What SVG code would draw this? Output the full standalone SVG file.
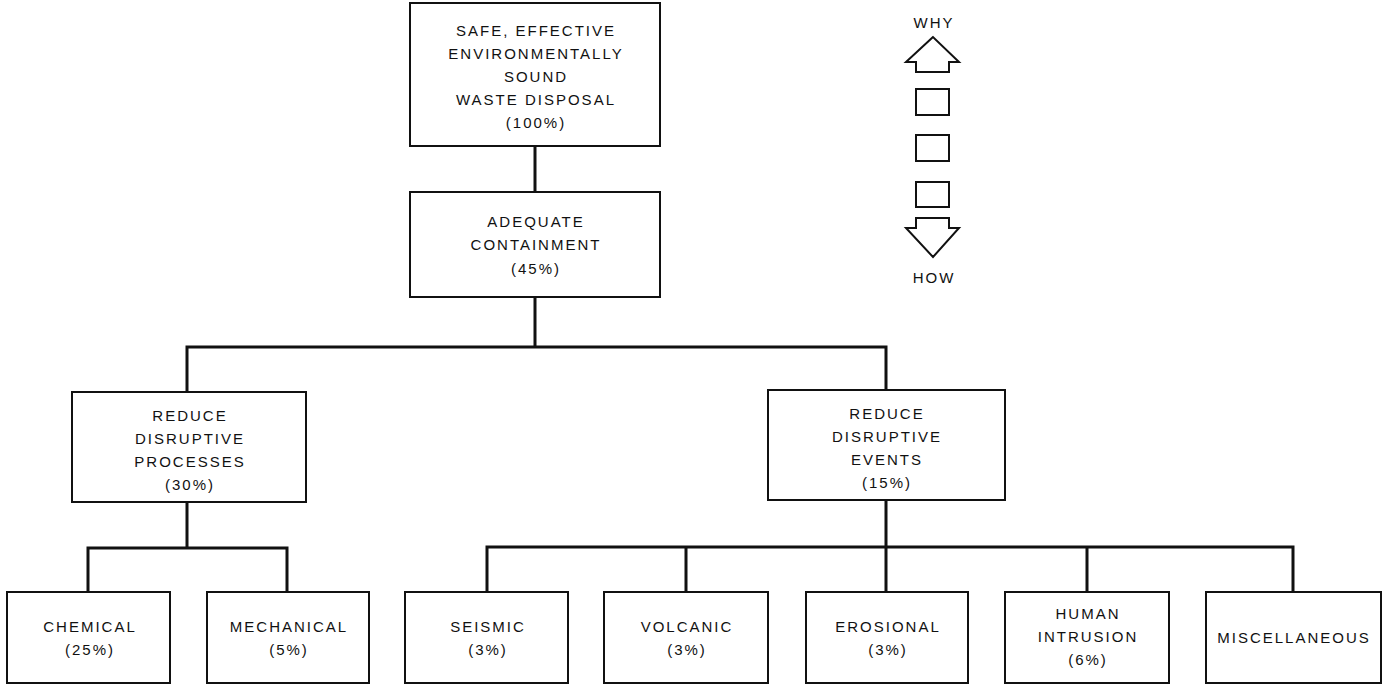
<svg xmlns="http://www.w3.org/2000/svg" width="1385" height="686" viewBox="0 0 1385 686">
  <style>
    .box { fill: #ffffff; stroke: #111111; stroke-width: 2; }
    .link { fill: none; stroke: #111111; stroke-width: 3; stroke-linejoin: miter; stroke-linecap: square; }
    .lbl { font-family: "Liberation Sans", Arial, Helvetica, sans-serif; font-size: 15px; letter-spacing: 2px; fill: #111111; text-anchor: middle; }
    .sym { fill: #ffffff; stroke: #111111; stroke-width: 2; stroke-linejoin: miter; }
  </style>

  <rect width="1385" height="686" fill="#ffffff"/>

  <!-- connectors -->
  <g id="connectors">
    <path class="link" d="M535,146 V192"/>
    <path class="link" d="M535,297 V347 M187,347 H886 M187,347 V392 M886,347 V390"/>
    <path class="link" d="M187,502 V548 M88,548 H287 M88,548 V592 M287,548 V592"/>
    <path class="link" d="M886,500 V592 M487,547 H1293 M487,547 V592 M686,547 V592 M1087,547 V592 M1293,547 V592"/>
  </g>

  <!-- nodes -->
  <g id="goal">
    <rect class="box" x="410" y="3" width="250" height="143"/>
    <text class="lbl" x="536" y="36">SAFE, EFFECTIVE</text>
    <text class="lbl" x="536" y="59">ENVIRONMENTALLY</text>
    <text class="lbl" x="536" y="82">SOUND</text>
    <text class="lbl" x="536" y="105">WASTE DISPOSAL</text>
    <text class="lbl" x="536" y="128">(100%)</text>
  </g>

  <g id="containment">
    <rect class="box" x="410" y="192" width="250" height="105"/>
    <text class="lbl" x="536" y="227">ADEQUATE</text>
    <text class="lbl" x="536" y="250">CONTAINMENT</text>
    <text class="lbl" x="536" y="274">(45%)</text>
  </g>

  <g id="processes">
    <rect class="box" x="72" y="392" width="234" height="110"/>
    <text class="lbl" x="190" y="421">REDUCE</text>
    <text class="lbl" x="190" y="444">DISRUPTIVE</text>
    <text class="lbl" x="190" y="467">PROCESSES</text>
    <text class="lbl" x="190" y="490">(30%)</text>
  </g>

  <g id="events">
    <rect class="box" x="768" y="390" width="237" height="110"/>
    <text class="lbl" x="887" y="419">REDUCE</text>
    <text class="lbl" x="887" y="442">DISRUPTIVE</text>
    <text class="lbl" x="887" y="465">EVENTS</text>
    <text class="lbl" x="887" y="488">(15%)</text>
  </g>

  <g id="chemical">
    <rect class="box" x="7" y="592" width="163" height="91"/>
    <text class="lbl" x="90" y="632">CHEMICAL</text>
    <text class="lbl" x="90" y="655">(25%)</text>
  </g>

  <g id="mechanical">
    <rect class="box" x="207" y="592" width="162" height="91"/>
    <text class="lbl" x="289" y="632">MECHANICAL</text>
    <text class="lbl" x="289" y="655">(5%)</text>
  </g>

  <g id="seismic">
    <rect class="box" x="405" y="592" width="163" height="91"/>
    <text class="lbl" x="488" y="632">SEISMIC</text>
    <text class="lbl" x="488" y="655">(3%)</text>
  </g>

  <g id="volcanic">
    <rect class="box" x="604" y="592" width="164" height="91"/>
    <text class="lbl" x="687" y="632">VOLCANIC</text>
    <text class="lbl" x="687" y="655">(3%)</text>
  </g>

  <g id="erosional">
    <rect class="box" x="806" y="592" width="162" height="91"/>
    <text class="lbl" x="888" y="632">EROSIONAL</text>
    <text class="lbl" x="888" y="655">(3%)</text>
  </g>

  <g id="human-intrusion">
    <rect class="box" x="1005" y="592" width="164" height="91"/>
    <text class="lbl" x="1088" y="619">HUMAN</text>
    <text class="lbl" x="1088" y="642">INTRUSION</text>
    <text class="lbl" x="1088" y="665">(6%)</text>
  </g>

  <g id="miscellaneous">
    <rect class="box" x="1206" y="592" width="175" height="91"/>
    <text class="lbl" x="1294" y="643">MISCELLANEOUS</text>
  </g>

  <!-- why / how key -->
  <g id="key">
    <text class="lbl" x="934" y="28">WHY</text>
    <path class="sym" d="M933,37 L906,62 L916,62 L916,72 L949,72 L949,62 L959,62 Z"/>
    <rect class="sym" x="916" y="89" width="33" height="26"/>
    <rect class="sym" x="916" y="135" width="33" height="26"/>
    <rect class="sym" x="916" y="182" width="33" height="25"/>
    <path class="sym" d="M916,218 L949,218 L949,228 L959,228 L933,257 L906,228 L916,228 Z"/>
    <text class="lbl" x="934" y="283">HOW</text>
  </g>
</svg>
